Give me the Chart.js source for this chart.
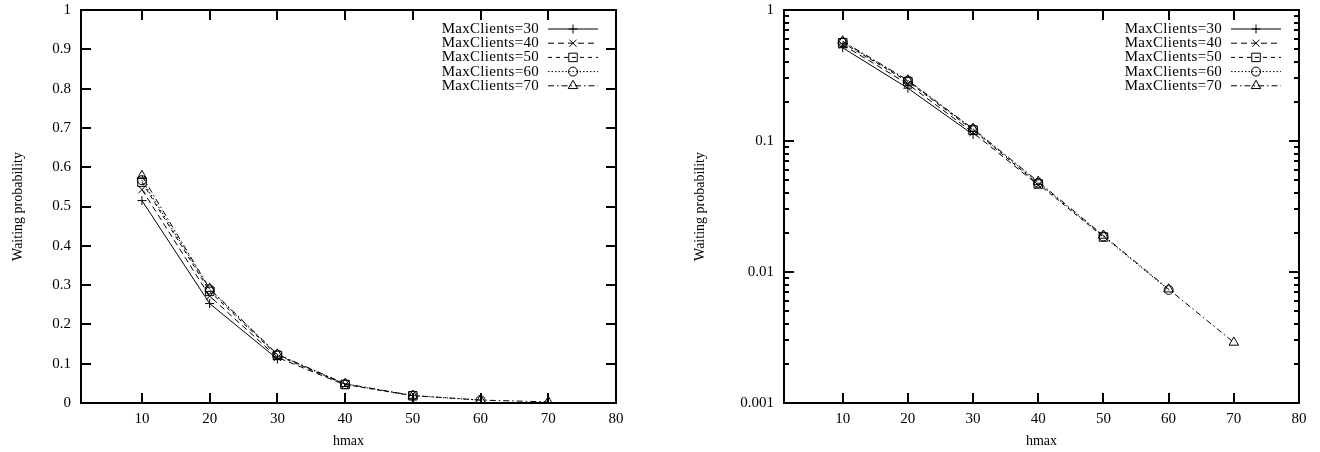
<!DOCTYPE html>
<html>
<head>
<meta charset="utf-8">
<script src="https://cdn.jsdelivr.net/npm/chart.js@4/dist/chart.umd.min.js"></script>
<style>
  html, body { margin: 0; padding: 0; background: #fff; }
  #wrap { position: relative; width: 1320px; height: 452px; }
  canvas { position: absolute; top: 0; }
  #cLin { left: 0; }
  #cLog { left: 660px; }
</style>
</head>
<body>
<div id="wrap">
  <canvas id="cLin" width="660" height="452"></canvas>
  <canvas id="cLog" width="660" height="452"></canvas>
</div>
<script>
// ===== DONNÉES =====
var hmax = [10, 20, 30, 40, 50, 60, 70];
var seriesNames = ['MaxClients=30', 'MaxClients=40', 'MaxClients=50', 'MaxClients=60', 'MaxClients=70'];
var maxClients30 = [0.515, 0.253, 0.112];
var maxClients40 = [0.543, 0.272, 0.116, 0.046];
var maxClients50 = [0.562, 0.284, 0.121, 0.047, 0.0185];
var maxClients60 = [0.567, 0.289, 0.123, 0.048, 0.0187, 0.0073];
var maxClients70 = [0.578, 0.291, 0.124, 0.049, 0.0190, 0.0074, 0.0029];
var xTicks = [10, 20, 30, 40, 50, 60, 70, 80];
var yTicksLin = [0, 0.1, 0.2, 0.3, 0.4, 0.5, 0.6, 0.7, 0.8, 0.9, 1];
var yTicksLog = [0.001, 0.01, 0.1, 1];
var yLabelsLog = ['0.001', '0.01', '0.1', '1'];

// ===== STYLES (façon gnuplot) =====
var allValues = [maxClients30, maxClients40, maxClients50, maxClients60, maxClients70];
var markers = ['cross', 'crossRot', 'rect', 'circle', 'triangle'];
var radii = [4.5, 5, 6, 4.5, 5.5];
var dashes = [[], [6, 4], [4, 4], [1.5, 2], [6, 3, 1.5, 3]];
var FONT = "'Liberation Serif', 'Times New Roman', serif";

function buildDatasets() {
    return allValues.map(function (vals, i) {
        return {
            label: seriesNames[i],
            data: vals.map(function (v, k) { return { x: hmax[k], y: v }; }),
            borderColor: '#000',
            borderWidth: 1,
            borderDash: dashes[i],
            pointStyle: markers[i],
            pointRadius: radii[i],
            pointBorderColor: '#000',
            pointBorderWidth: 1,
            pointBackgroundColor: 'rgba(0,0,0,0)',
            fill: false,
            tension: 0
        };
    });
}

// petit dessin de marqueur pour la légende
function drawMarker(ctx, style, x, y, r) {
    ctx.beginPath();
    if (style === 'cross') {
        ctx.moveTo(x - r, y); ctx.lineTo(x + r, y);
        ctx.moveTo(x, y - r); ctx.lineTo(x, y + r);
    } else if (style === 'crossRot') {
        var d = r * Math.SQRT1_2;
        ctx.moveTo(x - d, y - d); ctx.lineTo(x + d, y + d);
        ctx.moveTo(x - d, y + d); ctx.lineTo(x + d, y - d);
    } else if (style === 'rect') {
        var s = r * Math.SQRT1_2;
        ctx.rect(x - s, y - s, 2 * s, 2 * s);
    } else if (style === 'circle') {
        ctx.arc(x, y, r, 0, Math.PI * 2);
    } else if (style === 'triangle') {
        ctx.moveTo(x, y - r);
        ctx.lineTo(x + r * Math.sin(Math.PI / 3), y + r * 0.5);
        ctx.lineTo(x - r * Math.sin(Math.PI / 3), y + r * 0.5);
        ctx.closePath();
    }
    ctx.stroke();
}

// ===== CADRE, GRADUATIONS ET LÉGENDE =====
var gnuplotFrame = {
    id: 'gnuplotFrame',
    afterDraw: function (chart) {
        var ctx = chart.ctx;
        var a = chart.chartArea;
        var xs = chart.scales.x, ys = chart.scales.y;
        ctx.save();
        ctx.strokeStyle = '#000';
        ctx.lineWidth = 2;
        ctx.setLineDash([]);
        ctx.strokeRect(a.left, a.top, a.right - a.left, a.bottom - a.top);

        // graduations x (bas et haut, vers l'intérieur)
        ctx.beginPath();
        xTicks.forEach(function (v) {
            var px = Math.round(xs.getPixelForValue(v));
            ctx.moveTo(px, a.bottom); ctx.lineTo(px, a.bottom - 10);
            ctx.moveTo(px, a.top); ctx.lineTo(px, a.top + 10);
        });
        // graduations y
        var isLog = ys.type === 'logarithmic';
        var majors = isLog ? yTicksLog : yTicksLin;
        majors.forEach(function (v) {
            var py = Math.round(ys.getPixelForValue(v));
            ctx.moveTo(a.left, py); ctx.lineTo(a.left + 10, py);
            ctx.moveTo(a.right, py); ctx.lineTo(a.right - 10, py);
        });
        if (isLog) {
            for (var k = 0; k < yTicksLog.length - 1; k++) {
                for (var m = 2; m <= 9; m++) {
                    var py = Math.round(ys.getPixelForValue(yTicksLog[k] * m));
                    ctx.moveTo(a.left, py); ctx.lineTo(a.left + 5, py);
                    ctx.moveTo(a.right, py); ctx.lineTo(a.right - 5, py);
                }
            }
        }
        ctx.stroke();

        // légende en haut à droite
        var lineEnd = a.right - 18;
        var lineStart = lineEnd - 50;
        var textRight = lineStart - 9;
        ctx.font = '15px ' + FONT;
        ctx.fillStyle = '#000';
        ctx.textAlign = 'right';
        ctx.textBaseline = 'middle';
        if ('letterSpacing' in ctx) ctx.letterSpacing = '0.3px';
        seriesNames.forEach(function (name, i) {
            var y = a.top + 19 + i * 14.2;
            ctx.fillText(name, textRight, y);
            ctx.lineWidth = 1;
            ctx.setLineDash(dashes[i]);
            ctx.beginPath();
            ctx.moveTo(lineStart, y); ctx.lineTo(lineEnd, y);
            ctx.stroke();
            ctx.setLineDash([]);
            drawMarker(ctx, markers[i], (lineStart + lineEnd) / 2, y, radii[i]);
        });
        ctx.restore();
    }
};

function makeChart(canvasId, isLog, yWidth, padRight, yTitlePad) {
    var yScale = isLog ? {
        type: 'logarithmic',
        min: 0.001,
        max: 1,
        afterBuildTicks: function (s) { s.ticks = yTicksLog.map(function (v) { return { value: v }; }); },
        ticks: {
            callback: function (v) { var i = yTicksLog.indexOf(v); return i >= 0 ? yLabelsLog[i] : ''; }
        }
    } : {
        type: 'linear',
        min: 0,
        max: 1,
        afterBuildTicks: function (s) { s.ticks = yTicksLin.map(function (v) { return { value: v }; }); },
        ticks: {
            callback: function (v) { return String(+v.toFixed(1)); }
        }
    };
    // largeur fixe de l'axe y, sans marge ajoutée pour les étiquettes
    yScale.afterFit = function (s) {
        s.width = yWidth;
        s.paddingTop = 0;
        s.paddingBottom = 0;
    };
    yScale.grid = { display: false, drawTicks: false };
    yScale.border = { display: false };
    yScale.ticks.color = '#000';
    yScale.ticks.padding = 10;
    yScale.ticks.font = { family: FONT, size: 15 };
    yScale.title = {
        display: true,
        text: 'Waiting probability',
        color: '#000',
        font: { family: FONT, size: 14 },
        padding: { top: yTitlePad, bottom: 0 }
    };

    return new Chart(document.getElementById(canvasId), {
        type: 'line',
        data: { datasets: buildDatasets() },
        options: {
            responsive: false,
            animation: false,
            devicePixelRatio: 1,
            layout: { padding: { top: 10, right: padRight, left: 0, bottom: 0 } },
            plugins: { legend: { display: false }, tooltip: { enabled: false } },
            scales: {
                x: {
                    type: 'linear',
                    min: 1,
                    max: 80,
                    afterBuildTicks: function (s) { s.ticks = xTicks.map(function (v) { return { value: v }; }); },
                    afterFit: function (s) { s.height = 49; s.paddingLeft = 0; s.paddingRight = 0; },
                    grid: { display: false, drawTicks: false },
                    border: { display: false },
                    ticks: { color: '#000', padding: 7, maxRotation: 0, font: { family: FONT, size: 15 } },
                    title: {
                        display: true,
                        text: 'hmax',
                        color: '#000',
                        font: { family: FONT, size: 14 },
                        padding: { top: 0, bottom: 2 }
                    }
                },
                y: yScale
            }
        },
        plugins: [gnuplotFrame]
    });
}

document.addEventListener('DOMContentLoaded', function () {
    makeChart('cLin', false, 81, 44, 10);
    makeChart('cLog', true, 124, 21, 32);
});
</script>
</body>
</html>
